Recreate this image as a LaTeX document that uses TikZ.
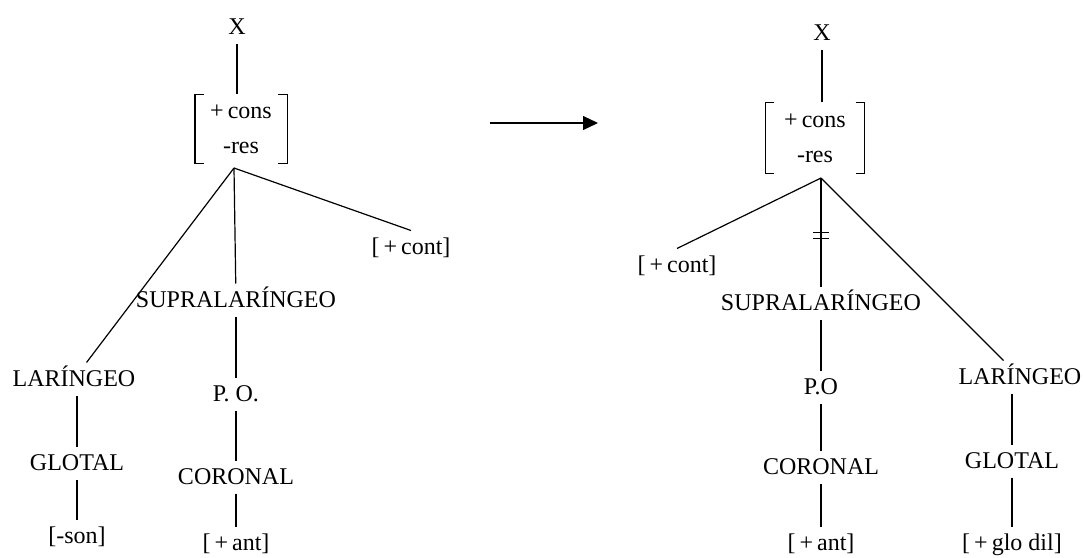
\documentclass[tikz,border=0pt]{standalone}
\usepackage{fontspec}
\setmainfont{Liberation Serif}
\usetikzlibrary{arrows.meta}

% square brackets round a feature matrix node
\newcommand{\featbrackets}[1]{%
  \draw ([xshift=4.5pt]#1.north west) -- (#1.north west) -- (#1.south west) -- ([xshift=4.5pt]#1.south west);
  \draw ([xshift=-4.5pt]#1.north east) -- (#1.north east) -- (#1.south east) -- ([xshift=-4.5pt]#1.south east);}

\begin{document}
\begin{tikzpicture}[x=0.5pt, y=-0.5pt, line width=0.6pt]
	\tikzset{lb/.style={font=\fontsize{12}{14}\selectfont, inner xsep=0pt, inner ysep=4pt, text height=7.9pt, text depth=0pt},
		feat/.style={font=\fontsize{12}{17.5}\selectfont, align=center, inner sep=0pt}};
	\useasboundingbox (0,0) rectangle (1084,558);

	% left tree
	\node[lb] (xA) at (237, 27) {X};
	\node[feat, minimum width=45.5pt, minimum height=34pt] (fmA) at (241, 129) {+\,cons\\-res};
	\coordinate (rA) at (234, 168);
	\node[lb] (contA) at (411, 247) {[\,+\,cont]};
	\node[lb] (supraA) at (236, 300) {SUPRALARÍNGEO};
	\node[lb] (larA) at (74, 379) {LARÍNGEO};
	\node[lb] (poA) at (236, 394) {P. O.};
	\node[lb] (glotA) at (77, 463) {GLOTAL};
	\node[lb] (corA) at (236, 477) {CORONAL};
	\node[lb] (sonA) at (77, 536) {[-son]};
	\node[lb] (antA) at (236, 543) {[\,+\,ant]};

	\draw (xA) to (xA |- fmA.north);
	\featbrackets{fmA}

	\draw (rA) to (larA);
	\draw (rA) to (supraA);
	\draw (rA) to (contA.north);

	\draw (supraA) to (poA);
	\draw (poA) to (corA);
	\draw (corA) to (antA);

	\draw (larA.south -| glotA) to (glotA);
	\draw (glotA) to (sonA);

	% rewrite arrow
	\coordinate (arrL) at (490, 123);
	\coordinate (arrR) at (598, 123);
	\draw[-{Triangle[length=7.5pt, width=7pt]}] (arrL) to (arrR);

	% right tree
	\node[lb] (xB) at (822, 33) {X};
	\node[feat, minimum width=49pt, minimum height=35pt] (fmB) at (815, 138) {+\,cons\\-res};
	\coordinate (rB) at (821, 178);
	\node[lb] (contB) at (677, 265) {[\,+\,cont]};
	\node[lb] (supraB) at (821, 303) {SUPRALARÍNGEO};
	\node[lb] (larB) at (1020, 377) {LARÍNGEO};
	\node[lb] (poB) at (821, 387) {P.O};
	\node[lb] (glotB) at (1012, 461) {GLOTAL};
	\node[lb] (corB) at (821, 467) {CORONAL};
	\node[lb] (antB) at (821, 543) {[\,+\,ant]};
	\node[lb] (dilB) at (1012, 543) {[\,+\,glo dil]};

	\draw (xB) to (xB |- fmB.north);
	\featbrackets{fmB}

	\draw (rB) to (contB.north);
	\draw (rB) -- coordinate[pos=0.53] (cutB) (supraB);
	\draw ([shift={(-8,-3)}]cutB) -- ++(16,0);
	\draw ([shift={(-8,3)}]cutB) -- ++(16,0);
	\draw (rB) to (larB);

	\draw (supraB) to (poB);
	\draw (poB) to (corB);
	\draw (corB) to (antB);

	\draw (larB.south -| glotB) to (glotB);
	\draw (glotB) to (dilB);
\end{tikzpicture}
\end{document}
